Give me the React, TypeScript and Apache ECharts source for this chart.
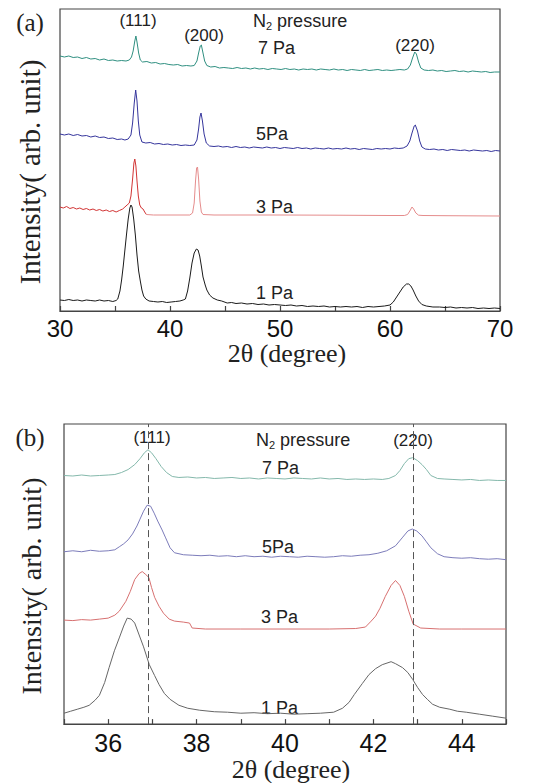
import React, { useEffect, useRef } from "react";
import * as echarts from "echarts";

// ---------- Panel (a): 2θ from 30 to 70 ----------
const topXTicks = [30, 40, 50, 60, 70];

const top7Pa: number[][] = [
  [30, 255], [30.4, 254], [30.8, 255], [31.2, 253.5], [31.6, 254], [32, 252.5], [32.4, 253.5], [32.8, 252],
  [33.2, 252.5], [33.6, 251], [34, 252], [34.4, 250.5], [34.8, 251], [35.2, 250], [35.6, 250.5], [36, 250],
  [36.3, 251], [36.5, 254], [36.65, 260], [36.8, 270], [36.9, 275], [37.0, 269], [37.15, 258], [37.3, 251],
  [37.5, 249], [37.9, 249.5], [38.3, 248], [38.7, 248.5], [39.1, 247], [39.5, 247.5], [39.9, 246.5], [40.3, 246],
  [40.7, 246.5], [41.1, 245], [41.5, 245.5], [41.9, 245], [42.2, 245.5], [42.45, 250], [42.6, 258], [42.75, 265],
  [42.85, 266], [43.0, 258], [43.15, 250], [43.35, 245.5], [43.7, 244], [44.1, 244.5], [44.5, 243], [44.9, 243.5],
  [45.3, 243], [45.7, 242.5], [46.1, 243.5], [46.5, 242.5], [46.9, 243], [47.3, 242], [47.7, 243], [48.1, 242],
  [48.5, 242.5], [48.9, 241.5], [49.3, 242.5], [49.7, 242], [50.1, 241.5], [50.5, 242.5], [50.9, 241.5], [51.3, 242],
  [51.7, 241], [52.1, 242], [52.5, 241.5], [52.9, 242], [53.3, 241], [53.7, 242], [54.1, 241.5], [54.5, 241],
  [54.9, 242], [55.3, 241], [55.7, 241.5], [56.1, 240.5], [56.5, 241.5], [56.9, 241], [57.3, 240.5], [57.7, 241.5],
  [58.1, 240.5], [58.5, 241], [58.9, 241.5], [59.3, 240.5], [59.7, 241], [60.1, 240.5], [60.5, 241], [60.9, 241.5],
  [61.3, 241], [61.6, 242], [61.85, 246], [62.05, 253], [62.25, 259], [62.4, 257], [62.6, 249], [62.8, 243],
  [63.1, 241], [63.5, 240.5], [63.9, 241], [64.3, 240], [64.7, 240.5], [65.1, 239.5], [65.5, 240], [65.9, 240.5],
  [66.3, 239.5], [66.7, 240], [67.1, 239], [67.5, 240], [67.9, 239.5], [68.3, 239], [68.7, 239.5], [69.1, 238.5],
  [69.5, 239], [70, 239],
];

const top5Pa: number[][] = [
  [30, 177], [30.4, 176], [30.8, 177], [31.2, 175.5], [31.6, 176.5], [32, 175], [32.4, 175.5], [32.8, 174],
  [33.2, 175], [33.6, 173.5], [34, 174], [34.4, 172.5], [34.8, 173], [35.2, 171.5], [35.6, 172], [35.9, 171],
  [36.2, 172], [36.45, 176], [36.6, 188], [36.75, 208], [36.88, 221], [37.0, 210], [37.12, 190], [37.25, 176],
  [37.45, 169], [37.8, 168], [38.2, 168.5], [38.6, 167], [39, 167.5], [39.4, 166.5], [39.8, 167], [40.2, 166],
  [40.6, 166.5], [41, 165.5], [41.4, 166], [41.8, 165.5], [42.2, 166], [42.45, 171], [42.6, 182], [42.72, 194],
  [42.82, 198], [42.95, 190], [43.1, 177], [43.3, 168], [43.6, 165], [44, 164.5], [44.4, 165], [44.8, 164],
  [45.2, 164.5], [45.6, 163.5], [46, 164.5], [46.4, 163.5], [46.8, 164], [47.2, 163], [47.6, 164], [48, 163.5],
  [48.4, 163], [48.8, 164], [49.2, 163], [49.6, 163.5], [50, 162.5], [50.4, 163.5], [50.8, 163], [51.2, 162.5],
  [51.6, 163.5], [52, 162.5], [52.4, 163], [52.8, 162], [53.2, 163], [53.6, 162.5], [54, 162], [54.4, 163],
  [54.8, 162], [55.2, 162.5], [55.6, 162], [56, 163], [56.4, 162], [56.8, 162.5], [57.2, 161.5], [57.6, 162.5],
  [58, 162], [58.4, 161.5], [58.8, 162.5], [59.2, 162], [59.6, 162.5], [60, 162], [60.4, 163], [60.8, 162.5],
  [61.2, 163], [61.55, 165], [61.8, 170], [62.0, 178], [62.2, 185], [62.3, 186], [62.5, 180], [62.7, 170],
  [62.9, 164], [63.2, 162], [63.6, 161.5], [64, 162], [64.4, 161], [64.8, 161.5], [65.2, 160.5], [65.6, 161.5],
  [66, 161], [66.4, 160.5], [66.8, 161], [67.2, 160], [67.6, 161], [68, 160.5], [68.4, 160], [68.8, 160.5],
  [69.2, 159.5], [69.6, 160.5], [70, 160],
];

const top3PaNoisy: number[][] = [
  [30, 104], [30.3, 103], [30.6, 104.5], [30.9, 102.5], [31.2, 103.5], [31.5, 102], [31.8, 103], [32.1, 101.5],
  [32.4, 102.5], [32.7, 101], [33, 102], [33.3, 100.5], [33.6, 101.5], [33.9, 100], [34.2, 101], [34.5, 99.5],
  [34.8, 100.5], [35.1, 99], [35.4, 100.5], [35.7, 102], [35.9, 104], [36.1, 106], [36.3, 108], [36.45, 115],
  [36.6, 132], [36.72, 148], [36.8, 152], [36.9, 145], [37.0, 130], [37.12, 115], [37.25, 106], [37.4, 103],
  [37.55, 102], [37.7, 99], [37.85, 96.5],
];

const top3PaSmooth: number[][] = [
  [37.85, 96.5], [38.5, 96], [40, 96], [41, 96], [41.8, 96], [42.05, 98], [42.2, 108], [42.32, 130],
  [42.42, 143], [42.5, 144], [42.6, 132], [42.72, 110], [42.85, 99], [43, 96.5], [44, 96], [50, 96],
  [55, 95.8], [60, 95.5], [61.3, 95.5], [61.6, 96.5], [61.8, 100], [62.0, 104], [62.15, 102], [62.35, 98],
  [62.6, 95.8], [63, 95.5], [65, 95.3], [70, 95],
];

const top1Pa: number[][] = [
  [30, 11], [30.4, 10.5], [30.8, 11.5], [31.2, 10.5], [31.6, 11], [32, 10], [32.4, 11], [32.8, 10.5],
  [33.2, 10], [33.6, 11], [34, 10], [34.4, 10.5], [34.8, 9.5], [35.1, 10.5], [35.25, 12], [35.45, 20],
  [35.6, 31], [35.75, 45], [35.9, 61], [36.05, 77], [36.2, 92], [36.35, 103], [36.45, 106], [36.55, 104],
  [36.7, 92], [36.85, 76], [37.0, 56], [37.15, 40], [37.3, 30], [37.45, 21], [37.6, 15], [37.8, 12],
  [38.1, 10], [38.5, 9.5], [38.9, 9], [39.3, 9.5], [39.7, 8.5], [40.1, 9], [40.5, 9.5], [40.9, 10],
  [41.2, 11], [41.4, 12], [41.6, 20], [41.8, 33], [42.0, 48], [42.2, 58], [42.4, 62], [42.55, 61],
  [42.7, 55], [42.85, 45], [43.0, 34], [43.2, 26], [43.35, 21], [43.6, 16], [43.9, 13], [44.3, 11],
  [44.7, 10], [45.2, 8], [45.6, 8.5], [46, 7.5], [46.5, 8], [47, 7], [47.5, 7.5], [48, 6.5],
  [48.5, 7], [49, 6], [49.5, 6.5], [50, 6], [50.5, 5.5], [51, 6], [51.5, 5], [52, 5.5],
  [52.5, 4.5], [53, 5], [53.5, 4.5], [54, 5], [54.5, 4], [55, 4.5], [55.5, 4], [56, 4.5],
  [56.5, 4], [57, 4.5], [57.5, 3.5], [58, 4.5], [58.5, 4], [59, 4.5], [59.5, 5], [60, 6],
  [60.3, 9], [60.6, 14], [60.9, 19], [61.2, 24], [61.5, 27], [61.7, 27], [61.9, 25], [62.1, 21],
  [62.35, 15], [62.6, 10], [62.9, 6.5], [63.3, 5], [63.9, 4], [64.5, 4], [65, 3.5], [65.5, 4],
  [66, 3], [66.5, 3.5], [67, 3], [67.5, 3.5], [68, 2.5], [68.5, 3], [69, 2.5], [69.5, 3], [70, 2.5],
];

// ---------- Panel (b): 2θ from 35 to 45 ----------
const bottomXTicks = [36, 38, 40, 42, 44];
const referenceLines = [36.9, 42.9];

const bot7Pa: number[][] = [
  [35, 251], [35.2, 250.5], [35.4, 251.5], [35.6, 250.5], [35.8, 251], [36, 251.5], [36.15, 252], [36.3, 254],
  [36.45, 257], [36.6, 262], [36.72, 268], [36.82, 274], [36.9, 277], [36.98, 274], [37.08, 268], [37.2, 260],
  [37.32, 254], [37.45, 250], [37.6, 249], [37.8, 249.5], [38, 248.5], [38.2, 249], [38.4, 248], [38.6, 248.5],
  [38.8, 249], [39, 248], [39.2, 248.5], [39.4, 247.5], [39.6, 248.5], [39.8, 248], [40, 247.5], [40.2, 248.5],
  [40.4, 248], [40.6, 247.5], [40.8, 248.5], [41, 247.5], [41.2, 248], [41.4, 247], [41.6, 247.5], [41.8, 247],
  [42, 247.5], [42.2, 247], [42.35, 248], [42.5, 251], [42.6, 256], [42.7, 263], [42.8, 268], [42.89, 269],
  [43, 266], [43.1, 262], [43.2, 257], [43.3, 251], [43.45, 248], [43.6, 247.5], [43.8, 247], [44, 246.5],
  [44.2, 247], [44.4, 246], [44.6, 246.5], [44.8, 246], [45, 246],
];

const bot5Pa: number[][] = [
  [35, 174], [35.2, 175], [35.4, 174], [35.6, 175.5], [35.8, 174.5], [36, 175], [36.15, 176], [36.25, 179],
  [36.35, 182], [36.45, 186], [36.55, 192], [36.65, 200], [36.72, 207], [36.8, 215], [36.88, 221], [36.96, 220],
  [37.04, 213], [37.12, 205], [37.22, 196], [37.3, 188], [37.4, 178], [37.5, 173], [37.7, 171], [37.9, 170.5],
  [38.1, 170], [38.3, 170.5], [38.5, 169.5], [38.7, 170], [38.9, 169], [39.1, 170], [39.3, 169], [39.5, 169.5],
  [39.7, 168.5], [39.9, 169.5], [40.1, 169], [40.3, 168.5], [40.5, 169.5], [40.7, 169], [40.9, 168.5], [41.1, 169],
  [41.3, 170], [41.5, 169.5], [41.7, 170.5], [41.9, 171], [42.1, 172.5], [42.3, 175], [42.5, 180], [42.65, 188],
  [42.78, 195], [42.88, 197], [42.98, 195], [43.1, 190], [43.2, 184], [43.3, 178], [43.45, 172], [43.6, 169],
  [43.8, 168], [44, 167.5], [44.2, 168], [44.4, 167], [44.6, 166.5], [44.8, 167], [45, 166],
];

const bot3Pa: number[][] = [
  [35, 105], [35.2, 104.5], [35.4, 105.5], [35.6, 105], [35.8, 106], [36, 107], [36.15, 110], [36.25, 114],
  [36.4, 124], [36.5, 134], [36.6, 146], [36.7, 152], [36.77, 154], [36.85, 151], [36.92, 148], [36.98, 138],
  [37.05, 128], [37.15, 119], [37.25, 112], [37.38, 106], [37.5, 104], [37.7, 103], [37.84, 102], [37.9, 97],
  [38.2, 96], [39, 96], [40, 96], [41, 96], [41.6, 96.5], [41.82, 98], [41.95, 104], [42.05, 109],
  [42.15, 117], [42.27, 129], [42.4, 140], [42.5, 145], [42.6, 140], [42.7, 129], [42.8, 114], [42.9, 101],
  [43.07, 97], [43.5, 96], [44, 96], [45, 96],
];

const bot1Pa: number[][] = [
  [35, 11], [35.15, 13], [35.3, 15], [35.45, 17], [35.57, 19], [35.7, 24], [35.8, 29], [35.92, 42],
  [36.02, 57], [36.14, 74], [36.25, 87], [36.35, 99], [36.43, 107], [36.52, 106], [36.6, 102], [36.7, 90],
  [36.8, 78], [36.93, 60], [37.05, 49], [37.15, 40], [37.27, 31], [37.4, 25], [37.6, 19], [37.8, 16],
  [38.07, 14], [38.4, 12.5], [38.7, 12], [39, 11], [39.3, 11.5], [39.6, 10.5], [39.9, 11], [40.2, 10],
  [40.5, 10.5], [40.8, 11], [41.1, 12], [41.3, 16], [41.45, 22], [41.57, 30], [41.75, 41], [41.9, 50],
  [42.05, 56], [42.2, 60], [42.4, 63], [42.5, 61], [42.66, 57], [42.78, 52], [42.89, 45], [43.0, 37],
  [43.11, 30], [43.22, 25], [43.34, 20], [43.5, 17], [43.73, 15], [43.9, 13], [44.1, 12], [44.4, 10],
  [44.7, 8], [45, 6],
];

const SANS = "Liberation Sans";
const SERIF = "Liberation Serif";

export default function App() {
  const ref = useRef<HTMLDivElement>(null);

  useEffect(() => {
    if (!ref.current) return;
    const chart = echarts.init(ref.current, null, { renderer: "svg" });

    const axisLineStyle = { color: "#444", width: 1.2 };
    const line = (
      name: string,
      data: number[][],
      color: string,
      idx: number,
      extra: any = {}
    ) => ({
      name,
      type: "line",
      xAxisIndex: idx,
      yAxisIndex: idx,
      data,
      symbol: "none",
      showSymbol: false,
      lineStyle: { color, width: 1 },
      itemStyle: { color },
      silent: true,
      ...extra,
    });

    const label = (text: string, x: number, y: number, size: number, align = "center") => ({
      type: "text",
      x,
      y,
      silent: true,
      style: {
        text,
        fontFamily: SANS,
        fontSize: size,
        fill: "#222",
        textAlign: align,
        textVerticalAlign: "middle",
      },
    });

    const pressureTitle = (x: number, y: number) => ({
      type: "text",
      x,
      y,
      silent: true,
      style: {
        text: "{n|N}{s|2}{n| pressure}",
        textAlign: "left",
        textVerticalAlign: "middle",
        rich: {
          n: { fontFamily: SANS, fontSize: 18, fill: "#222", lineHeight: 20 },
          s: { fontFamily: SANS, fontSize: 11, fill: "#222", lineHeight: 6, verticalAlign: "bottom" },
        },
      },
    });

    const option: any = {
      animation: false,
      grid: [
        { left: 60, top: 9, width: 440, height: 302, show: true, borderColor: "#444", borderWidth: 1.2 },
        { left: 64, top: 424, width: 442, height: 303, show: true, borderColor: "#444", borderWidth: 1.2 },
      ],
      xAxis: [
        {
          type: "value",
          gridIndex: 0,
          min: topXTicks[0],
          max: topXTicks[topXTicks.length - 1],
          interval: 10,
          axisLine: { show: true, lineStyle: axisLineStyle },
          axisTick: { show: true, inside: true, length: 5, lineStyle: axisLineStyle },
          minorTick: { show: true, splitNumber: 2, length: 5, lineStyle: axisLineStyle },
          splitLine: { show: false },
          axisLabel: { fontFamily: SANS, fontSize: 24, color: "#111", margin: 5 },
          name: "2θ (degree)",
          nameLocation: "middle",
          nameGap: 28,
          nameTextStyle: { fontFamily: SERIF, fontSize: 26, color: "#222", padding: [0, 0, 0, 14] },
        },
        {
          type: "value",
          gridIndex: 1,
          min: 35,
          max: 45,
          interval: 1,
          axisLine: { show: true, lineStyle: axisLineStyle },
          axisTick: { show: true, inside: true, length: 5, lineStyle: axisLineStyle },
          splitLine: { show: false },
          axisLabel: {
            fontFamily: SANS,
            fontSize: 25,
            color: "#111",
            margin: 6,
            formatter: (v: number) => (bottomXTicks.indexOf(v) >= 0 ? String(v) : ""),
          },
          name: "2θ (degree)",
          nameLocation: "middle",
          nameGap: 24,
          nameTextStyle: { fontFamily: SERIF, fontSize: 26, color: "#222", padding: [0, 0, 0, 12] },
        },
      ],
      yAxis: [
        {
          type: "value",
          gridIndex: 0,
          min: 0,
          max: 302,
          axisLine: { show: false },
          axisTick: { show: false },
          axisLabel: { show: false },
          splitLine: { show: false },
        },
        {
          type: "value",
          gridIndex: 1,
          min: 0,
          max: 303,
          axisLine: { show: false },
          axisTick: { show: false },
          axisLabel: { show: false },
          splitLine: { show: false },
        },
      ],
      series: [
        line("7 Pa (a)", top7Pa, "#2f8f80", 0),
        line("5 Pa (a)", top5Pa, "#35359c", 0),
        line("3 Pa (a)", top3PaNoisy, "#d23434", 0),
        line("3 Pa (a) smooth", top3PaSmooth, "#e58c8c", 0),
        line("1 Pa (a)", top1Pa, "#1a1a1a", 0),
        line("7 Pa (b)", bot7Pa, "#84b8ab", 1, {
          markLine: {
            silent: true,
            symbol: "none",
            label: { show: false },
            lineStyle: { color: "#555", type: [7, 4], width: 1 },
            data: referenceLines.map((v) => ({ xAxis: v })),
          },
        }),
        line("5 Pa (b)", bot5Pa, "#7c7cba", 1),
        line("3 Pa (b)", bot3Pa, "#d77070", 1),
        line("1 Pa (b)", bot1Pa, "#666666", 1),
      ],
      graphic: [
        {
          type: "text",
          x: 30,
          y: 22,
          style: { text: "(a)", fontFamily: SERIF, fontSize: 25, fill: "#222", textAlign: "center", textVerticalAlign: "middle" },
        },
        {
          type: "text",
          x: 30,
          y: 437,
          style: { text: "(b)", fontFamily: SERIF, fontSize: 25, fill: "#222", textAlign: "center", textVerticalAlign: "middle" },
        },
        {
          type: "text",
          x: 30,
          y: 172,
          rotation: Math.PI / 2,
          style: {
            text: "Intensity( arb. unit)",
            fontFamily: SERIF,
            fontSize: 29,
            fill: "#222",
            textAlign: "center",
            textVerticalAlign: "middle",
          },
        },
        {
          type: "text",
          x: 31,
          y: 586,
          rotation: Math.PI / 2,
          style: {
            text: "Intensity( arb. unit)",
            fontFamily: SERIF,
            fontSize: 28,
            fill: "#222",
            textAlign: "center",
            textVerticalAlign: "middle",
          },
        },
        // panel (a) annotations
        label("(111)", 138, 20, 17),
        label("(200)", 204, 35, 17),
        pressureTitle(253, 21),
        label("7 Pa", 258, 48, 18, "left"),
        label("(220)", 415, 45, 17),
        label("5Pa", 256, 134, 18, "left"),
        label("3 Pa", 256, 207, 18, "left"),
        label("1 Pa", 256, 293, 18, "left"),
        // panel (b) annotations
        label("(111)", 152, 437, 17),
        pressureTitle(256, 440),
        label("(220)", 413, 440, 17),
        label("7 Pa", 262, 468, 18, "left"),
        label("5Pa", 262, 547, 18, "left"),
        label("3 Pa", 261, 617, 18, "left"),
        label("1 Pa", 261, 708, 18, "left"),
      ],
    };

    chart.setOption(option);
    return () => chart.dispose();
  }, []);

  return (
    <div
      ref={ref}
      style={{ position: "absolute", left: 0, top: 0, width: 538, height: 783, background: "#fff" }}
    />
  );
}
